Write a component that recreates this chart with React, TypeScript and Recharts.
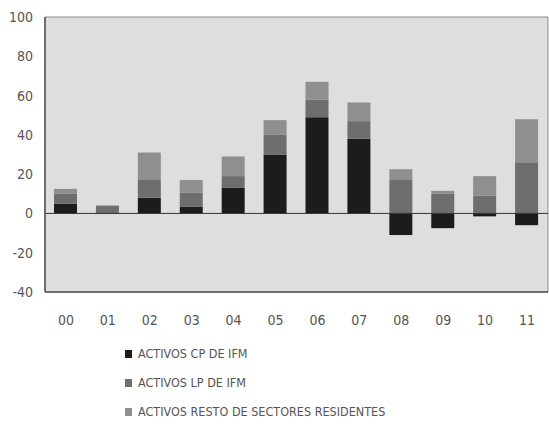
import { BarChart, Bar, XAxis, YAxis, ReferenceArea, ReferenceLine } from 'recharts';

const YEARS = ['00', '01', '02', '03', '04', '05', '06', '07', '08', '09', '10', '11'];
const ACTIVOS_CP = [5, 0.5, 8, 3.5, 13, 30, 49, 38, -11, -7.5, -1.5, -6];
const ACTIVOS_LP = [5, 3.5, 9, 7, 6, 10, 9, 9, 17, 10, 9, 26];
const ACTIVOS_RESTO = [2.5, 0, 14, 6.5, 10, 7.5, 9, 9.5, 5.5, 1.5, 10, 22];
const Y_TICKS = [-40, -20, 0, 20, 40, 60, 80, 100];

const SERIES = [
  { key: 'cp', label: 'ACTIVOS CP DE IFM', color: '#1c1c1c' },
  { key: 'lp', label: 'ACTIVOS LP DE IFM', color: '#6e6e6e' },
  { key: 'resto', label: 'ACTIVOS RESTO DE SECTORES RESIDENTES', color: '#8f8f8f' },
];

const FONT = '"Liberation Sans Narrow", "DejaVu Sans Condensed", "Liberation Sans", sans-serif';

const data = YEARS.map((year, i) => ({
  year,
  cp: ACTIVOS_CP[i],
  lp: ACTIVOS_LP[i],
  resto: ACTIVOS_RESTO[i],
}));

export default function App() {
  return (
    <div style={{ position: 'absolute', left: 0, top: 0, width: 549, height: 424, background: '#fff', fontFamily: FONT }}>
      <BarChart
        width={549}
        height={424}
        data={data}
        stackOffset="sign"
        barSize={23}
        margin={{ top: 17, right: 1, bottom: 102, left: 0 }}
      >
        <ReferenceArea y1={-40} y2={100} fill="#dedede" fillOpacity={1} stroke="#8a8a8a" strokeWidth={1} />
        <XAxis
          dataKey="year"
          height={30}
          tickLine={false}
          tickSize={0}
          tickMargin={23}
          axisLine={{ stroke: '#555', strokeWidth: 1.5 }}
          tick={{ fill: '#555', fontSize: 14, fontFamily: FONT }}
        />
        <YAxis
          width={45}
          domain={[-40, 100]}
          ticks={Y_TICKS}
          interval={0}
          tickLine={false}
          tickSize={0}
          tickMargin={12}
          axisLine={{ stroke: '#555', strokeWidth: 1.5 }}
          tick={{ fill: '#555', fontSize: 14, fontFamily: FONT }}
        />
        {SERIES.map((s) => (
          <Bar key={s.key} dataKey={s.key} stackId="a" fill={s.color} isAnimationActive={false} />
        ))}
        <ReferenceLine y={0} stroke="#333" strokeWidth={1} />
      </BarChart>
      {/* legend stacked under the chart */}
      <div style={{ position: 'absolute', left: 125, top: 339, color: '#555', fontSize: 12.5 }}>
        {SERIES.map((s) => (
          <div key={s.key} style={{ display: 'flex', alignItems: 'center', height: 29 }}>
            <span style={{ display: 'inline-block', width: 7, height: 8, background: s.color, marginRight: 6 }} />
            <span>{s.label}</span>
          </div>
        ))}
      </div>
    </div>
  );
}
